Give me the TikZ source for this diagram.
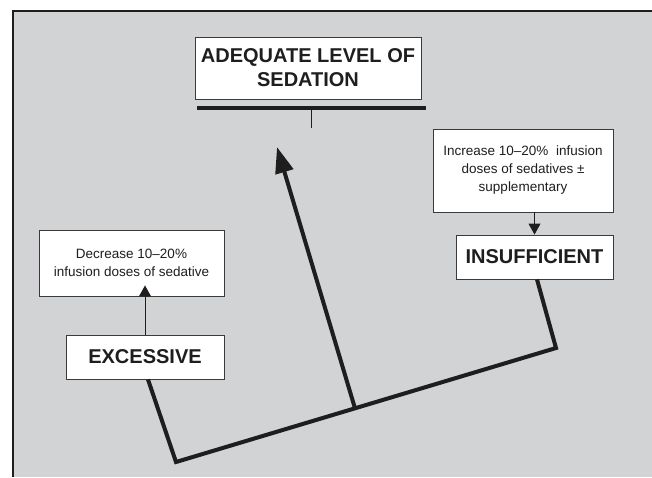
\documentclass[tikz,border=0pt]{standalone}
\usepackage{fontspec}
\setmainfont{Liberation Sans}
\usetikzlibrary{arrows.meta,calc}
\definecolor{panel}{HTML}{D2D3D5}
\definecolor{ink}{HTML}{1E1E1E}
\definecolor{boxline}{HTML}{3A3A3A}
\tikzset{
  box/.style={draw=boxline, line width=0.9pt, fill=white, rectangle, inner sep=0pt, align=center, text=ink},
  bigtext/.style={font=\fontsize{20}{24}\selectfont\bfseries},
  smalltext/.style={font=\fontsize{13.5}{18}\selectfont},
  thinarrow/.style={draw=ink, line width=0.9pt, -{Triangle[length=11pt,width=12pt]}},
  thickline/.style={draw=ink, line width=4pt, line join=miter},
  bigarrow/.style={draw=ink, line width=4pt, -{Triangle[length=26pt,width=18pt]}}
}
\begin{document}
\begin{tikzpicture}[x=1pt,y=-1pt]
\useasboundingbox (0,0) rectangle (652,477);
\fill[panel] (13,11) rectangle (652,477);
\draw[ink, line width=1.5pt] (13,477) -- (13,11) -- (652,11);

\node[box, bigtext, minimum width=226pt, minimum height=62pt] (adq) at (308,68) {ADEQUATE LEVEL OF\\SEDATION};
\coordinate (barL) at (197,108);
\coordinate (barR) at (426,108);
\draw[ink, line width=4.5pt] (barL) -- (barR);
\coordinate (barM) at (311,108);
\coordinate (barEnd) at (311,128);
\draw[ink, line width=0.9pt] (barM) -- (barEnd);

\node[box, smalltext, minimum width=185pt, minimum height=66pt] (dec) at (131.5,263) {Decrease 10--20\%\\infusion doses of sedative};
\node[box, smalltext, minimum width=180pt, minimum height=83pt] (inc) at (523,170.5) {Increase 10--20\%\ \ infusion\\doses of sedatives \textpm\\supplementary};
\node[box, bigtext, minimum width=158pt, minimum height=44pt] (exc) at (145,357) {EXCESSIVE};
\node[box, bigtext, minimum width=157pt, minimum height=44pt] (ins) at (534.5,257) {INSUFFICIENT};

\draw[thinarrow, shorten >=-11pt] (exc.north) -- (exc.north |- dec.south);
\draw[thinarrow] (ins.north |- inc.south) -- (ins.north);

\coordinate (c1) at (176,462);
\coordinate (c2) at (556,348);
\draw[thickline] ([xshift=3pt]exc.south) -- (c1) -- (c2) -- ([xshift=2.5pt]ins.south);
\coordinate (m) at ($(c1)!0.471!(c2)$);
\coordinate (tip) at (277,147);
\draw[bigarrow] (m) -- (tip);
\end{tikzpicture}
\end{document}
